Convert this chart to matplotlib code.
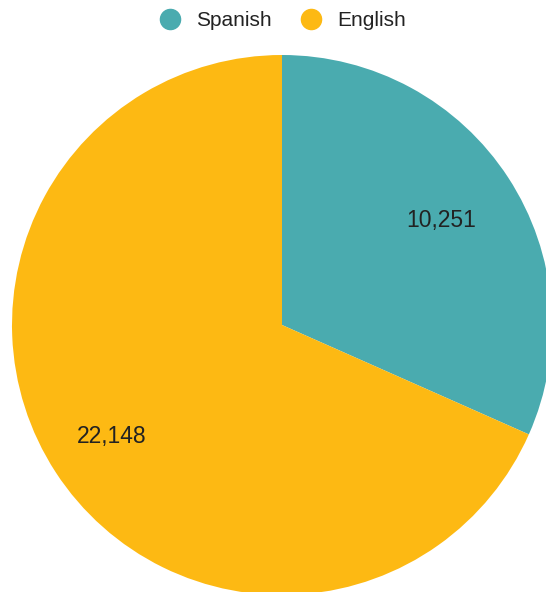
import matplotlib
matplotlib.use("Agg")
import matplotlib.pyplot as plt
from matplotlib.lines import Line2D

plt.rcParams['font.family'] = ['Liberation Sans', 'DejaVu Sans']

# data
languages = ["Spanish", "English"]
counts = [10251, 22148]
colors = ["#4aabaf", "#fdb913"]

W, H = 546, 592
fig = plt.figure(figsize=(W/100, H/100), dpi=100)
ax = fig.add_axes([0, 0, 1, 1])

cx, cy, r = 282, H - 325, 270
wedges, texts = ax.pie(counts, colors=colors, startangle=90, counterclock=False,
                       radius=r, center=(cx, cy), labels=[f"{c:,}" for c in counts],
                       labeldistance=None)

# value labels inside the slices
label_pos = [(441, 220), (112, 437)]
for c, (x, y) in zip(counts, label_pos):
    ax.text(x, H - y, f"{c:,}", ha="center", va="center", fontsize=16.5, color="#222222")

ax.set_xlim(0, W)
ax.set_ylim(0, H)
ax.set_aspect("equal")
ax.axis("off")

handles = [Line2D([0], [0], marker="o", linestyle="", markersize=14.5,
                  markerfacecolor=col, markeredgecolor=col) for col in colors]
fig.legend(handles, languages, loc="center", bbox_to_anchor=(283/W, 1 - 21/H),
           ncol=2, frameon=False, fontsize=15, handlelength=1.0,
           handletextpad=0.75, columnspacing=1.4, labelcolor="#222222")

fig.savefig("out.png", dpi=100, facecolor="white")
